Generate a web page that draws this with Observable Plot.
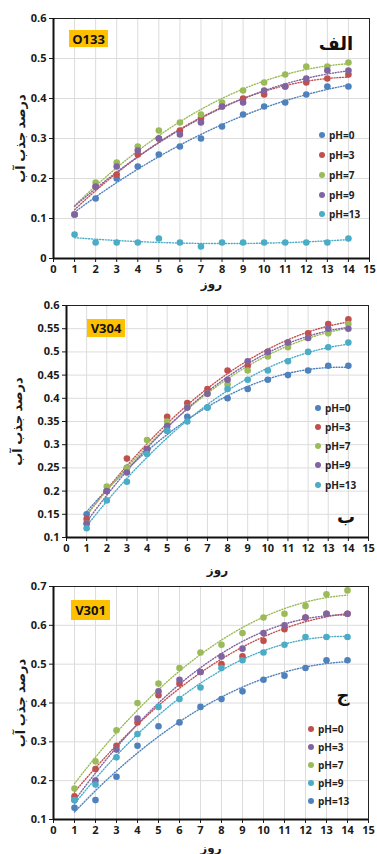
<!DOCTYPE html>
<html><head><meta charset="utf-8">
<script src="https://cdn.jsdelivr.net/npm/d3@7"></script>
<script src="https://cdn.jsdelivr.net/npm/@observablehq/plot@0.6"></script>
<style>
body{margin:0;background:#fff;}
#wrap{position:relative;width:377px;height:854px;overflow:hidden;font-family:"Open Sans","DejaVu Sans",sans-serif;}
.panel{position:absolute;left:0;}
.tag{position:absolute;background:#FFC000;font-weight:bold;font-size:13px;color:#111;display:flex;align-items:center;justify-content:center;font-family:"Open Sans",sans-serif;}
.letter{position:absolute;font-weight:bold;font-size:18px;color:#111;font-family:"DejaVu Sans",sans-serif;transform:translate(-50%,-50%);white-space:nowrap;}
.leg{position:absolute;font-size:10px;font-weight:bold;color:#222;display:flex;align-items:center;transform:translateY(-50%);white-space:nowrap;}
.leg span.d{display:inline-block;width:6px;height:6px;border-radius:50%;margin-right:4px;}
</style>
</head><body>
<div id="wrap"></div>
<script>
// ---------- data ----------
const days = [1,2,3,4,5,6,7,8,9,10,11,12,13,14];
const xTicks = [0,1,2,3,4,5,6,7,8,9,10,11,12,13,14,15];

// Panel الف : O133
const p1Names = ["pH=0","pH=3","pH=7","pH=9","pH=13"];
const p1Colors = ["#4F81BD","#C0504D","#9BBB59","#8064A2","#4BACC6"];
const p1_pH0  = [0.11,0.15,0.20,0.23,0.26,0.28,0.30,0.33,0.36,0.38,0.39,0.41,0.43,0.43];
const p1_pH3  = [0.11,0.18,0.21,0.26,0.30,0.32,0.35,0.38,0.40,0.41,0.43,0.44,0.45,0.46];
const p1_pH7  = [0.11,0.19,0.24,0.28,0.32,0.34,0.36,0.39,0.42,0.44,0.46,0.48,0.48,0.49];
const p1_pH9  = [0.11,0.18,0.23,0.27,0.30,0.31,0.34,0.38,0.39,0.42,0.43,0.45,0.47,0.47];
const p1_pH13 = [0.06,0.04,0.04,0.04,0.05,0.04,0.03,0.04,0.04,0.04,0.04,0.04,0.04,0.05];
const p1YTicks = [0,0.1,0.2,0.3,0.4,0.5,0.6];

// Panel ب : V304
const p2Names = ["pH=0","pH=3","pH=7","pH=9","pH=13"];
const p2Colors = ["#4F81BD","#C0504D","#9BBB59","#8064A2","#4BACC6"];
const p2_pH0  = [0.15,0.20,0.25,0.29,0.33,0.36,0.38,0.40,0.42,0.44,0.45,0.46,0.47,0.47];
const p2_pH3  = [0.14,0.20,0.27,0.29,0.36,0.39,0.42,0.46,0.47,0.50,0.52,0.54,0.56,0.57];
const p2_pH7  = [0.13,0.21,0.25,0.31,0.35,0.38,0.41,0.43,0.46,0.49,0.51,0.53,0.54,0.56];
const p2_pH9  = [0.13,0.20,0.24,0.29,0.34,0.38,0.41,0.44,0.48,0.50,0.52,0.53,0.55,0.55];
const p2_pH13 = [0.12,0.18,0.22,0.28,0.33,0.35,0.38,0.42,0.44,0.46,0.48,0.50,0.51,0.52];
const p2YTicks = [0.1,0.15,0.2,0.25,0.3,0.35,0.4,0.45,0.5,0.55,0.6];

// Panel ج : V301
const p3Names = ["pH=0","pH=3","pH=7","pH=9","pH=13"];
const p3Colors = ["#C0504D","#8064A2","#9BBB59","#4BACC6","#4F81BD"];
const p3_pH0  = [0.16,0.23,0.29,0.35,0.42,0.45,0.48,0.50,0.52,0.56,0.59,0.62,0.63,0.63];
const p3_pH3  = [0.15,0.20,0.28,0.36,0.43,0.46,0.48,0.52,0.54,0.58,0.60,0.62,0.63,0.63];
const p3_pH7  = [0.18,0.25,0.33,0.40,0.45,0.49,0.53,0.55,0.58,0.62,0.63,0.65,0.68,0.69];
const p3_pH9  = [0.15,0.19,0.26,0.32,0.39,0.41,0.44,0.49,0.51,0.53,0.55,0.57,0.57,0.57];
const p3_pH13 = [0.13,0.15,0.21,0.29,0.34,0.35,0.39,0.41,0.43,0.46,0.47,0.49,0.51,0.51];
const p3YTicks = [0.1,0.2,0.3,0.4,0.5,0.6,0.7];

const yLabel = "درصد جذب آب";
const xLabel = "روز";

// ---------- helpers ----------
function toRows(names, series){
  const rows = [];
  names.forEach((n,i)=> days.forEach((d,j)=> rows.push({series:n, day:d, v:series[i][j]})));
  return rows;
}
// quadratic least-squares trendline (like Excel's polynomial order 2)
function quadFit(xs, ys){
  let n=xs.length, s=[0,0,0,0,0], t=[0,0,0];
  for(let i=0;i<n;i++){const x=xs[i],y=ys[i];let p=1;for(let k=0;k<5;k++){s[k]+=p;if(k<3)t[k]+=p*y;p*=x;}}
  const A=[[s[0],s[1],s[2],t[0]],[s[1],s[2],s[3],t[1]],[s[2],s[3],s[4],t[2]]];
  for(let c=0;c<3;c++){for(let r=c+1;r<3;r++){const f=A[r][c]/A[c][c];for(let k=c;k<4;k++)A[r][k]-=f*A[c][k];}}
  const b=[0,0,0];
  for(let r=2;r>=0;r--){let v=A[r][3];for(let k=r+1;k<3;k++)v-=A[r][k]*b[k];b[r]=v/A[r][r];}
  return x=>b[0]+b[1]*x+b[2]*x*x;
}
function trendRows(names, series){
  const rows=[];
  const steps=d3.range(days[0], days[days.length-1]+0.001, 0.25);
  names.forEach((n,i)=>{const f=quadFit(days, series[i]); steps.forEach(x=>rows.push({series:n, day:x, v:f(x)}));});
  return rows;
}
const fmt = d => String(+d.toFixed(2));

function makePanel(o){
  const rows = toRows(o.names, o.series);
  const trend = trendRows(o.names, o.series);
  const plot = Plot.plot({
    width:377, height:o.height,
    marginLeft:o.ml, marginRight:o.mr, marginTop:o.mt, marginBottom:o.mb,
    style:{fontFamily:'"Open Sans","DejaVu Sans",sans-serif', fontSize:"11px", fontWeight:"bold", color:"#1a1a1a", background:"transparent", overflow:"visible"},
    x:{domain:[xTicks[0], xTicks[xTicks.length-1]]},
    y:{domain:[o.yTicks[0], o.yTicks[o.yTicks.length-1]]},
    color:{domain:o.names, range:o.colors},
    marks:[
      Plot.gridX(xTicks,{stroke:"#dcdcdc", strokeOpacity:1}),
      Plot.gridY(o.yTicks,{stroke:"#dcdcdc", strokeOpacity:1}),
      Plot.frame({stroke:"#222", strokeWidth:1}),
      Plot.axisX({ticks:xTicks, tickFormat:d=>String(d), tickSize:4, tickPadding:3, label:xLabel, labelAnchor:"center", labelArrow:"none", labelOffset:o.xlo, fontSize:11}),
      Plot.axisY({ticks:o.yTicks, tickFormat:fmt, tickSize:4, tickPadding:3, label:yLabel, labelAnchor:"center", labelArrow:"none", labelOffset:o.ylo, fontSize:11}),
      Plot.ruleX([xTicks[0]],{stroke:"#111", strokeWidth:2}),
      Plot.ruleY([o.yTicks[0]],{stroke:"#111", strokeWidth:2}),
      Plot.line(trend,{x:"day", y:"v", z:"series", stroke:"series", strokeWidth:1.4, strokeDasharray:"1,1.8", curve:"linear"}),
      Plot.dot(rows,{x:"day", y:"v", fill:"series", r:3.3})
    ]
  });
  plot.querySelectorAll('g[aria-label="y-axis label"] text').forEach(t=>t.setAttribute("font-size","13"));
  plot.querySelectorAll('g[aria-label="x-axis label"] text').forEach(t=>t.setAttribute("font-size","12"));
  const div=document.createElement("div");
  div.className="panel"; div.style.top=o.top+"px";
  div.appendChild(plot);
  document.getElementById("wrap").appendChild(div);
}

makePanel({top:0, height:292, ml:53, mr:8, mt:18, mb:34, xlo:29, ylo:38,
  names:p1Names, colors:p1Colors, series:[p1_pH0,p1_pH3,p1_pH7,p1_pH9,p1_pH13], yTicks:p1YTicks});
makePanel({top:290, height:290, ml:66, mr:9, mt:15, mb:43, xlo:36, ylo:54,
  names:p2Names, colors:p2Colors, series:[p2_pH0,p2_pH3,p2_pH7,p2_pH9,p2_pH13], yTicks:p2YTicks});
makePanel({top:574, height:280, ml:53, mr:9, mt:12, mb:35, xlo:32, ylo:38,
  names:p3Names, colors:p3Colors, series:[p3_pH0,p3_pH3,p3_pH7,p3_pH9,p3_pH13], yTicks:p3YTicks});

// ---------- overlays (tags, panel letters, legends) ----------
const wrap=document.getElementById("wrap");
function tag(txt,l,t,w,h){const d=document.createElement("div");d.className="tag";Object.assign(d.style,{left:l+"px",top:t+"px",width:w+"px",height:h+"px"});d.textContent=txt;wrap.appendChild(d);}
function letter(txt,x,y){const d=document.createElement("div");d.className="letter";d.dir="rtl";Object.assign(d.style,{left:x+"px",top:y+"px"});d.textContent=txt;wrap.appendChild(d);}
function legend(names,colors,x,ys){names.forEach((n,i)=>{const d=document.createElement("div");d.className="leg";Object.assign(d.style,{left:(x-3)+"px",top:ys[i]+"px"});const s=document.createElement("span");s.className="d";s.style.background=colors[i];d.appendChild(s);d.appendChild(document.createTextNode(n));wrap.appendChild(d);});}

tag("O133",69,30,39,17);
tag("V304",87,319,38,18);
tag("V301",71,600,39,20);
letter("الف",336,43);
letter("ب",346,516);
letter("ج",343,694);
legend(p1Names,p1Colors,322,[135,155,175,195,214]);
legend(p2Names,p2Colors,318,[408,427,446,465,485]);
legend(p3Names,p3Colors,311,[729,747,765,783,801]);
</script>
</body></html>
